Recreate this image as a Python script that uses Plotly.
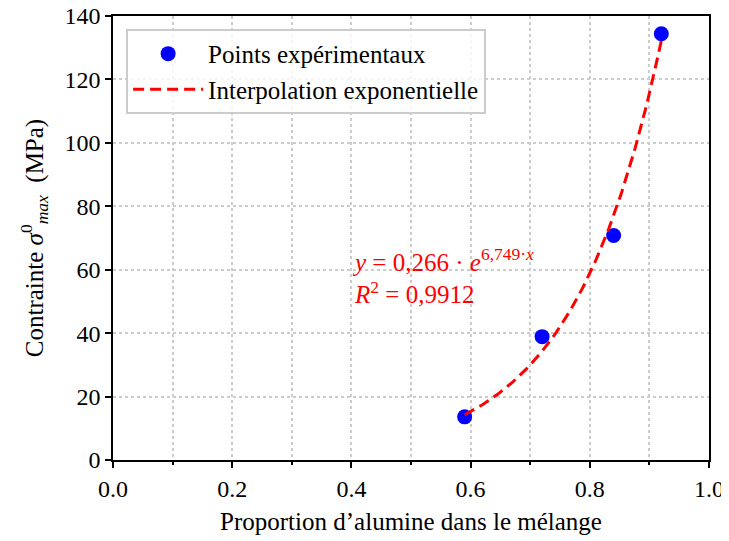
import numpy as np
import plotly.graph_objects as go

# Experimental data
proportion = [0.59, 0.72, 0.84, 0.92]
contrainte = [13.6, 38.9, 70.8, 134.4]

# Exponential fit parameters (read from the annotation)
fit_a = 0.266
fit_b = 6.749
fit_r2 = "0,9912"
fit_range = [0.59, 0.92]

x_fit = np.linspace(fit_range[0], fit_range[1], 200)
y_fit = fit_a * np.exp(fit_b * x_fit)

FONT = "Liberation Serif"

fig = go.Figure()
fig.add_trace(go.Scatter(
    x=proportion, y=contrainte, mode="markers",
    marker=dict(color="#0000ff", size=15),
    name="Points expérimentaux", legendgroup="a",
))
fig.add_trace(go.Scatter(
    x=x_fit, y=y_fit, mode="lines",
    line=dict(color="#ff0000", width=3, dash="11px,6px"),
    name="Interpolation exponentielle", legendgroup="b",
))

fig.add_annotation(
    x=0.398, y=58, xref="x", yref="y", xanchor="left", yanchor="middle",
    text="<i>y</i> = 0,266 · <i>e</i><sup>6,749·<i>x</i></sup><br><i>R</i><sup>2</sup> = " + fit_r2,
    showarrow=False, align="left",
    font=dict(family=FONT, size=25, color="#ff0000"),
)

axis_common = dict(
    showline=True, linecolor="black", linewidth=1.5, mirror=True,
    ticks="outside", ticklen=6, tickwidth=1.5, tickcolor="black",
    showgrid=True, gridcolor="#cccccc", griddash="dot", gridwidth=1.5,
    zeroline=False, automargin=False, ticklabeloverflow="allow",
    tickfont=dict(family=FONT, size=24, color="black"),
)

fig.update_xaxes(
    range=[0, 1], dtick=0.2, tick0=0, tickformat=".1f",
    title=dict(text="Proportion d’alumine dans le mélange", font=dict(family=FONT, size=25, color="black"), standoff=12),
    minor=dict(dtick=0.1, ticks="outside", ticklen=3.5, tickcolor="black", showgrid=True,
               gridcolor="#cccccc", griddash="dot", gridwidth=1.5),
    **axis_common,
)
fig.update_yaxes(
    range=[0, 140], dtick=20, tick0=0,
    title=dict(text="Contrainte <i>σ</i><sup>0</sup><sub><i>max</i></sub>  (MPa)", font=dict(family=FONT, size=25, color="black"), standoff=14),
    **axis_common,
)

# page body adds an 8px offset; margins are set so the plot area lands where the reference has it
fig.update_layout(
    width=729, height=541,
    margin=dict(l=105, r=28, t=8, b=89),
    plot_bgcolor="white", paper_bgcolor="white",
    font=dict(family=FONT, size=25, color="black"),
    legend=dict(
        x=0.022, y=0.971, xanchor="left", yanchor="top",
        bgcolor="rgba(255,255,255,0.8)", bordercolor="#cccccc", borderwidth=2,
        font=dict(family=FONT, size=25, color="black"),
        traceorder="grouped", tracegroupgap=0, itemwidth=70,
    ),
    showlegend=True,
)

fig.write_html("out.html")
